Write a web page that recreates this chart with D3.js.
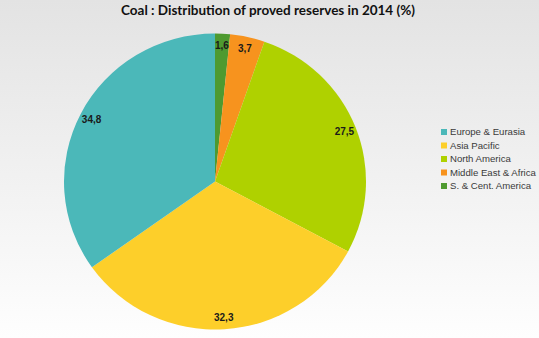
<!DOCTYPE html>
<html>
<head>
<meta charset="utf-8">
<script src="https://cdn.jsdelivr.net/npm/d3@7"></script>
<style>
  html, body { margin: 0; padding: 0; }
  body { width: 539px; height: 338px; overflow: hidden; }
</style>
</head>
<body>
<svg id="chart" width="539" height="338"></svg>
<script>
// Proved coal reserves by region, 2014 (% of world total)
const regions = ["S. & Cent. America", "Middle East & Africa", "North America", "Asia Pacific", "Europe & Eurasia"];
const shares = [1.6, 3.7, 27.5, 32.3, 34.8];
const colors = ["#4e9a30", "#f7931e", "#afd100", "#fdcf2a", "#4bb8b9"];
const legendOrder = ["Europe & Eurasia", "Asia Pacific", "North America", "Middle East & Africa", "S. & Cent. America"];

const width = 539, height = 338;
const svg = d3.select("#chart");

// background gradient
const defs = svg.append("defs");
const bg = defs.append("linearGradient").attr("id", "bg").attr("x1", 0).attr("y1", 0).attr("x2", 0).attr("y2", 1);
bg.append("stop").attr("offset", "0%").attr("stop-color", "#e3e3e3");
bg.append("stop").attr("offset", "100%").attr("stop-color", "#fefefe");
svg.append("rect").attr("width", width).attr("height", height).attr("fill", "url(#bg)");

// title
svg.append("text")
  .attr("x", 268).attr("y", 15)
  .attr("text-anchor", "middle")
  .style("font-family", "Lato, 'Open Sans', sans-serif")
  .style("font-weight", "bold")
  .style("font-size", "13.5px")
  .attr("fill", "#111")
  .text("Coal : Distribution of proved reserves in 2014 (%)");

// pie
const cx = 215, cy = 181.5, r = 148, sx = 151 / 148;
const data = regions.map((name, i) => ({ name, value: shares[i], color: colors[i] }));
const pie = d3.pie().value(d => d.value).sort(null);
const arcs = pie(data);
const arc = d3.arc().innerRadius(0).outerRadius(r);

const g = svg.append("g").attr("transform", `translate(${cx},${cy}) scale(${sx},1)`);
g.selectAll("path").data(arcs).join("path")
  .attr("d", arc)
  .attr("fill", d => d.data.color);

// value labels
const labelArc = d3.arc().innerRadius(r * 0.92).outerRadius(r * 0.92);
svg.append("g").attr("transform", `translate(${cx},${cy})`)
  .selectAll("text").data(arcs).join("text")
  .attr("transform", d => { const [x, y] = labelArc.centroid(d); return `translate(${x * sx},${y})`; })
  .attr("text-anchor", "middle")
  .attr("dy", "0.35em")
  .style("font-family", "'Liberation Sans', Arial, sans-serif")
  .style("font-weight", "bold")
  .style("font-size", "10px")
  .attr("fill", "#1a1a1a")
  .text(d => d3.format(".1f")(d.data.value).replace(".", ","));

// legend
const colorOf = d3.scaleOrdinal().domain(regions).range(colors);
const legend = svg.append("g").attr("transform", "translate(441,132)");
const item = legend.selectAll("g").data(legendOrder).join("g")
  .attr("transform", (d, i) => `translate(0,${i * 13.5})`);
item.append("rect").attr("x", 0).attr("y", -3).attr("width", 6).attr("height", 6).attr("fill", d => colorOf(d));
item.append("text")
  .attr("x", 9).attr("y", 0).attr("dy", "0.35em")
  .style("font-family", "'Liberation Sans', Arial, sans-serif")
  .style("font-size", "9.6px")
  .attr("fill", "#3a3a3a")
  .text(d => d);
</script>
</body>
</html>
